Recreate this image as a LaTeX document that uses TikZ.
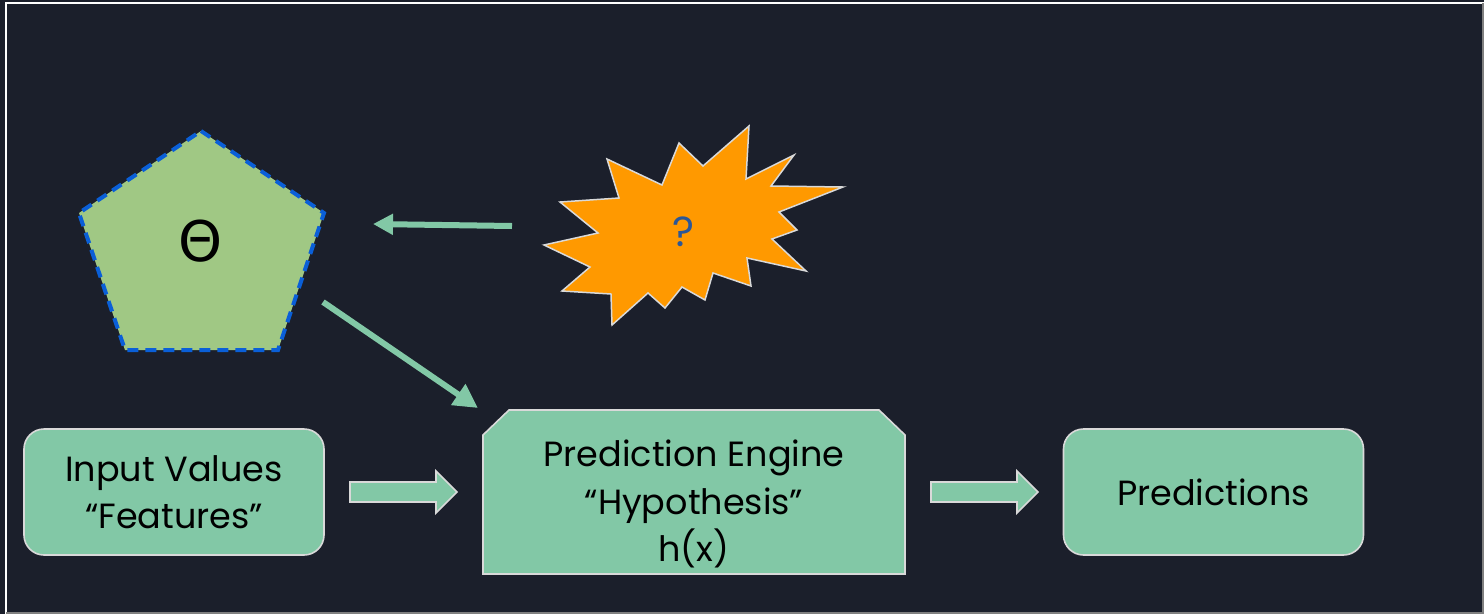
\documentclass[tikz,border=0pt]{standalone}
\usepackage{fontspec}
\setmainfont{Poppins}
\newfontfamily\symfont{DejaVu Sans}
\usetikzlibrary{arrows.meta,shapes.misc}
\definecolor{bgc}{HTML}{1B1F2B}
\definecolor{boxc}{HTML}{82C8A6}
\definecolor{edgec}{HTML}{D9D9D9}
\definecolor{pentc}{HTML}{A0C884}
\definecolor{dashc}{HTML}{0A5FD8}
\definecolor{starc}{HTML}{FF9900}
\definecolor{qc}{HTML}{2B5797}
\tikzset{
  lbl/.style={font=\fontsize{35}{47.5}\selectfont, text=black, align=center},
  roundbox/.style={draw=edgec, line width=1.6pt, fill=boxc, rounded corners=20pt,
    minimum width=300pt, minimum height=126pt, inner sep=0pt, lbl},
  engbox/.style={draw=edgec, line width=1.6pt, fill=boxc, line join=miter},
  blockarrow/.style={draw=edgec, line width=1.6pt, fill=boxc, line join=miter},
  thinarrow/.style={draw=boxc, line width=6pt},
}
\begin{document}
\begin{tikzpicture}[x=1pt,y=-1pt]
\useasboundingbox (0,0) rectangle (1484,614);
\fill[bgc] (0,0) rectangle (1484,614);
\draw[white, line width=2pt] (6,614) -- (6,3) -- (1484,3);
\draw[gray, line width=1.5pt] (1483,3) -- (1483,613) -- (6,613);

% pentagon
\coordinate (p1) at (201,131);
\coordinate (p2) at (324,213);
\coordinate (p3) at (278,350);
\coordinate (p4) at (125,350);
\coordinate (p5) at (79,213);
\fill[pentc] (p1) -- (p2) -- (p3) -- (p4) -- (p5) -- cycle;
\draw[dashc, line width=4pt, dash pattern=on 11pt off 7pt] (p1) -- (p2) -- (p3) -- (p4) -- (p5) -- cycle;
\node (theta) at (201,241) {\symfont\fontsize{56}{56}\selectfont Θ};

% star burst
\fill[starc, draw=edgec, line width=1.5pt, line join=miter]
 (749,126) -- (746,179) -- (794,155) -- (771,186) -- (843,187) -- (779,212) -- (797,230)
 -- (772,239) -- (806,271) -- (747,258) -- (751,286) -- (713,273) -- (705,300) -- (682,287)
 -- (665,308) -- (648,293) -- (612,325) -- (611,294) -- (562,291) -- (590,267) -- (544,245)
 -- (598,233) -- (560,202) -- (619,198) -- (607,159) -- (662,185) -- (679,143) -- (703,166) -- cycle;
\node[text=qc, font=\fontsize{42}{42}\selectfont] (q) at (683,232) {?};

% boxes
\node[roundbox] (in) at (174,492) {Input Values\\“Features”};
\coordinate (e1) at (483,435);
\coordinate (e2) at (509,410);
\coordinate (e3) at (879,410);
\coordinate (e4) at (905,435);
\coordinate (e5) at (905,574);
\coordinate (e6) at (483,574);
\draw[engbox] (e1) -- (e2) -- (e3) -- (e4) -- (e5) -- (e6) -- cycle;
\node[lbl] (eng) at (694,504) {Prediction Engine\\“Hypothesis”\\h(x)};
\node[roundbox] (out) at (1213.5,492) {Predictions};

% thin arrows
\coordinate (qa) at (512,226);
\coordinate (ta) at (373,224);
\draw[thinarrow, -{Triangle[length=20pt,width=20pt]}] (qa) -- (ta);
\coordinate (tb) at (323,302);
\coordinate (eb) at (478,408);
\draw[thinarrow, -{Triangle[length=24pt,width=24pt]}] (tb) -- (eb);

% block arrows
\coordinate (a1) at (350,492);
\draw[blockarrow] (a1) ++(0,-10) -- ++(86,0) -- ++(0,-11) -- ++(21,21) -- ++(-21,21) -- ++(0,-11) -- ++(-86,0) -- cycle;
\coordinate (a2) at (931,492);
\draw[blockarrow] (a2) ++(0,-10) -- ++(86,0) -- ++(0,-11) -- ++(21,21) -- ++(-21,21) -- ++(0,-11) -- ++(-86,0) -- cycle;
\end{tikzpicture}
\end{document}
